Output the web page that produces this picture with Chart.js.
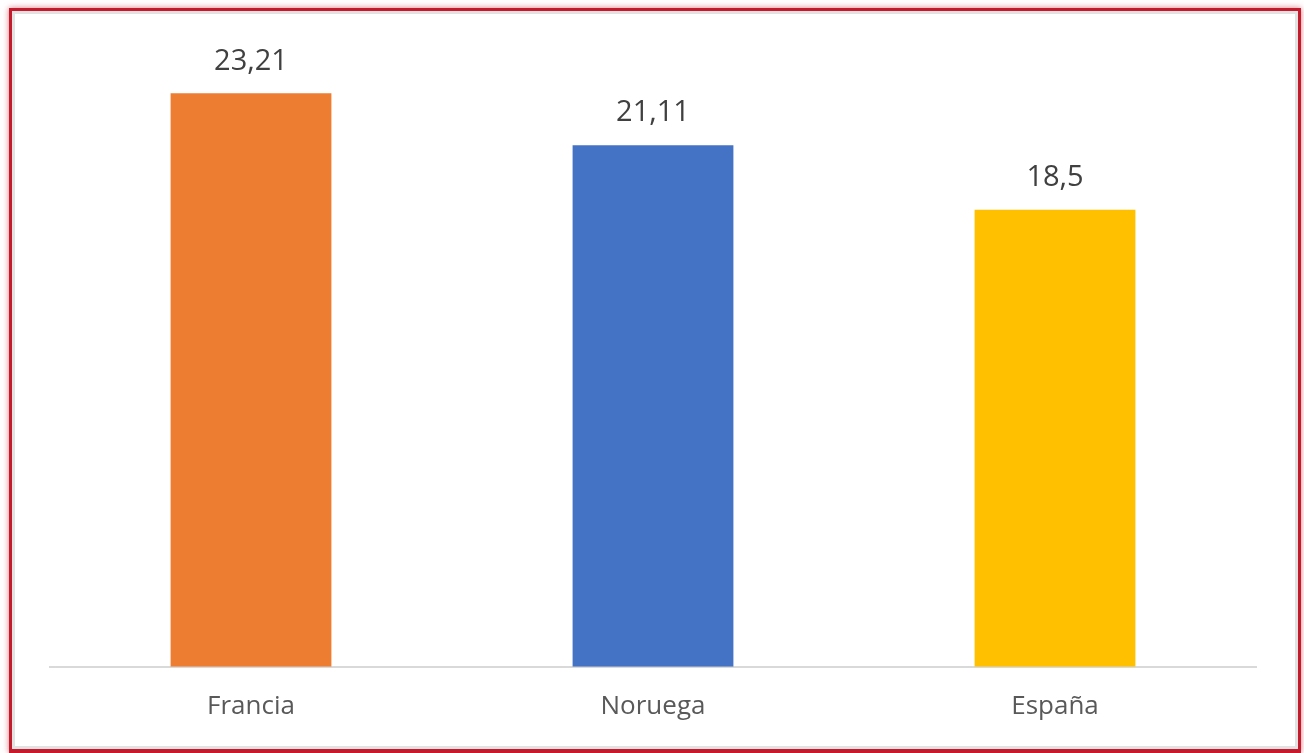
<!DOCTYPE html>
<html>
<head>
<meta charset="utf-8">
<script src="https://cdn.jsdelivr.net/npm/chart.js@4"></script>
<style>
  body { margin: 0; background: #ffffff; }
  #frame {
    position: absolute; left: 9px; top: 8px; width: 1286px; height: 738px;
    border: 3px solid #c41a2c;
    border-bottom-width: 4px;
    box-shadow: 0 0 6px rgba(196, 26, 44, 0.6), inset 0 0 0 3px #e2e2e2;
  }
  #wrap { position: absolute; left: 0; top: 0; width: 1304px; height: 753px; }
</style>
</head>
<body>
<div id="frame"></div>
<div id="wrap"><canvas id="chart"></canvas></div>
<script>
const countries = ["Francia", "Noruega", "España"];
const values = [23.21, 21.11, 18.5];
const barColors = ["#ED7D31", "#4472C4", "#FFC000"];

// value labels above each bar, written with a decimal comma
const valueLabels = {
  id: "valueLabels",
  afterDatasetsDraw(chart) {
    const ctx = chart.ctx;
    const meta = chart.getDatasetMeta(0);
    ctx.save();
    ctx.font = "29px 'Open Sans'";
    ctx.fillStyle = "#404040";
    ctx.textAlign = "center";
    ctx.textBaseline = "middle";
    meta.data.forEach(function(bar, i){
      const text = String(values[i]).replace(".", ",");
      ctx.fillText(text, bar.x, bar.y - 32);
    });
    ctx.restore();
  }
};

document.addEventListener("DOMContentLoaded", function(){
  new Chart(document.getElementById("chart"), {
    type: "bar",
    data: {
      labels: countries,
      datasets: [{
        data: values,
        backgroundColor: barColors,
        barPercentage: 0.8,
        categoryPercentage: 0.5
      }]
    },
    options: {
      responsive: true,
      maintainAspectRatio: false,
      animation: false,
      layout: { padding: { left: 50, right: 48, top: 49, bottom: 7 } },
      plugins: { legend: { display: false }, tooltip: { enabled: false } },
      scales: {
        y: { display: false, min: 0, max: 25 },
        x: {
          grid: { display: false, drawTicks: false },
          border: { color: "#d9d9d9", width: 2 },
          ticks: {
            color: "#595959",
            font: { family: "'Open Sans'", size: 26 },
            padding: 24
          }
        }
      }
    },
    plugins: [valueLabels]
  });
});
</script>
</body>
</html>
